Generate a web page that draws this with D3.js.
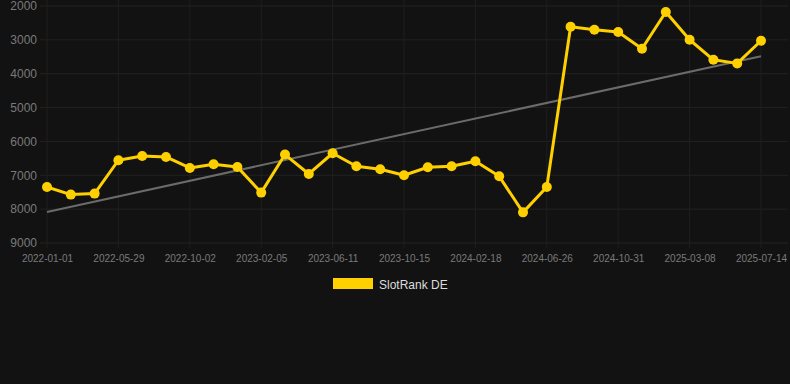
<!DOCTYPE html>
<html><head><meta charset="utf-8">
<script src="https://cdn.jsdelivr.net/npm/d3@7"></script>
<style>html,body{margin:0;padding:0;background:#121212;}svg{display:block;}</style>
</head><body>
<svg id="c" width="790" height="384"></svg>
<script>
const tickLabels = ["2022-01-01","2022-05-29","2022-10-02","2023-02-05","2023-06-11","2023-10-15","2024-02-18","2024-06-26","2024-10-31","2025-03-08","2025-07-14"];
const rankValues = [7346,7571,7541,6556,6429,6458,6784,6675,6754,7512,6388,6961,6349,6734,6822,7000,6763,6734,6586,7030,8095,7346,2612,2701,2769,3263,2178,2997,3589,3695,3027];
const yTicks = [2000,3000,4000,5000,6000,7000,8000,9000];
const seriesName = "SlotRank DE";

const svg = d3.select("#c");
const W = 790, H = 384;
svg.append("rect").attr("width", W).attr("height", H).attr("fill", "#121212");

const idx = d3.range(rankValues.length);
const x = d3.scaleLinear().domain([0, rankValues.length - 1]).range([47, 761]);
const y = d3.scaleLinear().domain([2000, 9000]).range([6, 243]);

// grid
const g = svg.append("g");
g.selectAll(".hg").data(yTicks).enter().append("line")
  .attr("x1", 40).attr("x2", 788).attr("y1", d => y(d)).attr("y2", d => y(d))
  .attr("stroke", "#222").attr("stroke-width", 1);
const tickIdx = tickLabels.map((_, i) => i * 3);
g.selectAll(".vg").data(tickIdx).enter().append("line")
  .attr("x1", d => x(d)).attr("x2", d => x(d)).attr("y1", 0).attr("y2", 248)
  .attr("stroke", "#1f1f1f").attr("stroke-width", 1);

// y axis
const yAxis = d3.axisLeft(y).tickValues(yTicks).tickSize(0).tickPadding(0).tickFormat(d3.format("d"));
const ya = svg.append("g").attr("transform", "translate(37,0)").call(yAxis);
ya.select(".domain").remove();
ya.selectAll("text").attr("fill", "#7a7a7a").style("font-family", "Arial, 'Liberation Sans', sans-serif").style("font-size", "12px");

// x axis
const xAxis = d3.axisBottom(x).tickValues(tickIdx).tickSize(0).tickPadding(0).tickFormat((d, i) => tickLabels[i]);
const xa = svg.append("g").attr("transform", "translate(0,255)").call(xAxis);
xa.select(".domain").remove();
xa.selectAll("text").attr("fill", "#7a7a7a").style("font-family", "Arial, 'Liberation Sans', sans-serif").style("font-size", "10px");

// trend line (least squares)
const n = rankValues.length;
const mx = d3.mean(idx), my = d3.mean(rankValues);
const sxy = d3.sum(idx, i => (i - mx) * (rankValues[i] - my));
const sxx = d3.sum(idx, i => (i - mx) * (i - mx));
const slope = sxy / sxx, icpt = my - slope * mx;
svg.append("line")
  .attr("x1", x(0)).attr("y1", y(icpt))
  .attr("x2", x(n - 1)).attr("y2", y(icpt + slope * (n - 1)))
  .attr("stroke", "#6b6b6b").attr("stroke-width", 2);

// series
const color = "#ffd000";
svg.append("path").datum(idx)
  .attr("d", d3.line().x(i => x(i)).y(i => y(rankValues[i])))
  .attr("fill", "none").attr("stroke", color).attr("stroke-width", 3).attr("stroke-linejoin", "round");
svg.selectAll(".pt").data(idx).enter().append("circle")
  .attr("cx", i => x(i)).attr("cy", i => y(rankValues[i])).attr("r", 5).attr("fill", color);

// legend
svg.append("rect").attr("x", 333).attr("y", 278).attr("width", 40).attr("height", 11).attr("fill", color);
svg.append("text").attr("x", 379).attr("y", 288.5).text(seriesName)
  .attr("fill", "#dddddd").style("font-family", "Arial, 'Liberation Sans', sans-serif").style("font-size", "12px");
</script>
</body></html>
